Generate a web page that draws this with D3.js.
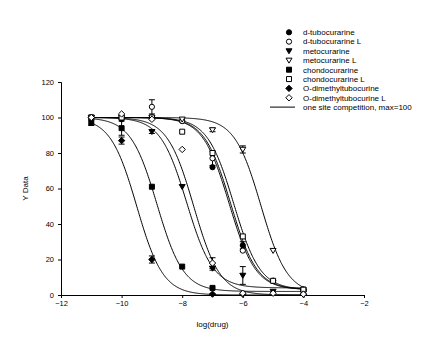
<!DOCTYPE html>
<html>
<head>
<meta charset="utf-8">
<script src="https://cdn.jsdelivr.net/npm/d3@7"></script>
<style>
  html, body { margin: 0; padding: 0; background: #fff; }
  svg { display: block; }
  text { font-family: "Liberation Sans", Arial, sans-serif; fill: #000; }
</style>
</head>
<body>
<svg id="chart" width="441" height="344"></svg>
<script>
// log(drug) concentrations used for every compound
const doses = [-11, -10, -9, -8, -7, -6, -5, -4];

// mean responses (null = no point)
const dTubo      = [100, 99, 100, 98, 72, 28, 8, 3];
const dTuboL     = [100, 100, 106, 98, 77, 25, 8, 3];
const meto       = [100, 99, 92, 61, 15, 11, 2, 1];
const metoL      = [100, 100, 100, 99, 93, 82, 25, 2];
const chondo     = [97, 94, 61, 16, 4, null, null, 3];
const chondoL    = [100, 100, 100, 92, 80, 33, 8, 3];
const oDim       = [100, 87, 20, null, 0.5, 0.5, null, 0.5];
const oDimL      = [100, 102, 99, 82, 18, 1, 1, 0.5];

// standard errors
const dTuboErr   = [0, 0, 0, 0, 0, 2, 0, 0];
const dTuboLErr  = [0, 0, 4, 0, 4, 0, 0, 0];
const metoErr    = [0, 0, 1, 0, 1, 5, 0, 0];
const metoLErr   = [0, 0, 0, 0, 1, 2, 0, 2];
const chondoErr  = [1.5, 4, 0, 0, 0, 0, 0, 0];
const chondoLErr = [0, 0, 0, 0, 0, 0, 0, 0];
const oDimErr    = [1, 2, 2, 0, 0, 0, 0, 0];
const oDimLErr   = [0, 0, 0, 0, 3, 0, 0, 0];

// one site competition fits (top fixed at 100)
const logIC50 = [-6.4, -6.45, -7.85, -5.4, -8.83, -6.3, -9.5, -7.62];
const bottoms = [3, 3, 4, 0.5, 2, 3, 0, 0];

const names = ["d-tubocurarine", "d-tubocurarine L", "metocurarine", "metocurarine L",
               "chondocurarine", "chondocurarine L", "O-dimethyltubocurine", "O-dimethyltubocurine L"];
const symbols = ["circle", "circle", "triangle", "triangle", "square", "square", "diamond", "diamond"];
const filled  = [true, false, true, false, true, false, true, false];
const values  = [dTubo, dTuboL, meto, metoL, chondo, chondoL, oDim, oDimL];
const errors  = [dTuboErr, dTuboLErr, metoErr, metoLErr, chondoErr, chondoLErr, oDimErr, oDimLErr];
const fitLabel = "one site competition, max=100";

const xTicks = [-12, -10, -8, -6, -4, -2];
const yTicks = [0, 20, 40, 60, 80, 100, 120];

const svg = d3.select("#chart");
const x = d3.scaleLinear().domain([-12, -2]).range([61, 364]);
const y = d3.scaleLinear().domain([0, 120]).range([295, 82]);

// axes
const xAxis = d3.axisBottom(x).tickValues(xTicks).tickSize(3).tickPadding(3).tickFormat(d3.format("d"));
const yAxis = d3.axisLeft(y).tickValues(yTicks).tickSize(3).tickPadding(4).tickFormat(d3.format("d"));

const gx = svg.append("g").attr("transform", `translate(0,${y(0)})`).call(xAxis);
const gy = svg.append("g").attr("transform", `translate(${x(-12)},0)`).call(yAxis);
[gx, gy].forEach(g => {
  g.select(".domain").attr("stroke", "#000").attr("stroke-width", 1);
  g.selectAll(".tick line").attr("stroke", "#000");
  g.selectAll(".tick text").attr("font-size", "7.5px").attr("font-family", "'Liberation Sans', Arial, sans-serif");
});

svg.append("text").attr("x", (x(-12) + x(-2)) / 2).attr("y", 327)
  .attr("text-anchor", "middle").attr("font-size", "8px").text("log(drug)");
svg.append("text").attr("transform", `translate(28,${y(60)}) rotate(-90)`)
  .attr("text-anchor", "middle").attr("font-size", "8px").text("Y Data");

// fitted curves
const model = (xv, c, b) => b + (100 - b) / (1 + Math.pow(10, xv - c));
const xs = d3.range(-11, -3.999, 0.02);
const line = d3.line().x(d => x(d[0])).y(d => y(d[1]));
logIC50.forEach((c, i) => {
  svg.append("path")
    .attr("d", line(xs.map(v => [v, model(v, c, bottoms[i])])))
    .attr("fill", "none").attr("stroke", "#000").attr("stroke-width", 1);
});

// compact marker outlines
const shapePath = {
  circle:   "M2.6,0A2.6,2.6,0,1,1,-2.6,0A2.6,2.6,0,1,1,2.6,0Z",
  triangle: "M-3,-2.2L3,-2.2L0,2.8Z",
  square:   "M-2.5,-2.5L2.5,-2.5L2.5,2.5L-2.5,2.5Z",
  diamond:  "M0,-3.2L3.2,0L0,3.2L-3.2,0Z"
};
function drawSymbol(g, kind, isFilled, cx, cy) {
  g.append("path")
    .attr("d", shapePath[kind])
    .attr("transform", `translate(${cx},${cy})`)
    .attr("fill", isFilled ? "#000" : "#fff")
    .attr("stroke", "#000").attr("stroke-width", 1);
}

// error bars then points
values.forEach((vals, i) => {
  const g = svg.append("g");
  vals.forEach((v, j) => {
    if (v === null) return;
    const e = errors[i][j];
    if (e > 0) {
      const cx = x(doses[j]);
      g.append("line").attr("x1", cx).attr("x2", cx).attr("y1", y(v - e)).attr("y2", y(v + e)).attr("stroke", "#000");
      [v - e, v + e].forEach(t => g.append("line").attr("x1", cx - 3).attr("x2", cx + 3)
        .attr("y1", y(t)).attr("y2", y(t)).attr("stroke", "#000"));
    }
  });
});
values.forEach((vals, i) => {
  const g = svg.append("g");
  vals.forEach((v, j) => {
    if (v === null) return;
    drawSymbol(g, symbols[i], filled[i], x(doses[j]), y(v));
  });
});

// legend
const lg = svg.append("g");
const rowY = i => 32.3 + i * 9.35;
names.forEach((n, i) => {
  drawSymbol(lg, symbols[i], filled[i], 289, rowY(i));
  lg.append("text").attr("x", 303).attr("y", rowY(i) + 2.8).attr("font-size", "8px").text(n);
});
lg.append("line").attr("x1", 270).attr("x2", 295).attr("y1", rowY(8)).attr("y2", rowY(8)).attr("stroke", "#000");
lg.append("text").attr("x", 303).attr("y", rowY(8) + 2.8).attr("font-size", "8px").text(fitLabel);
</script>
</body>
</html>
